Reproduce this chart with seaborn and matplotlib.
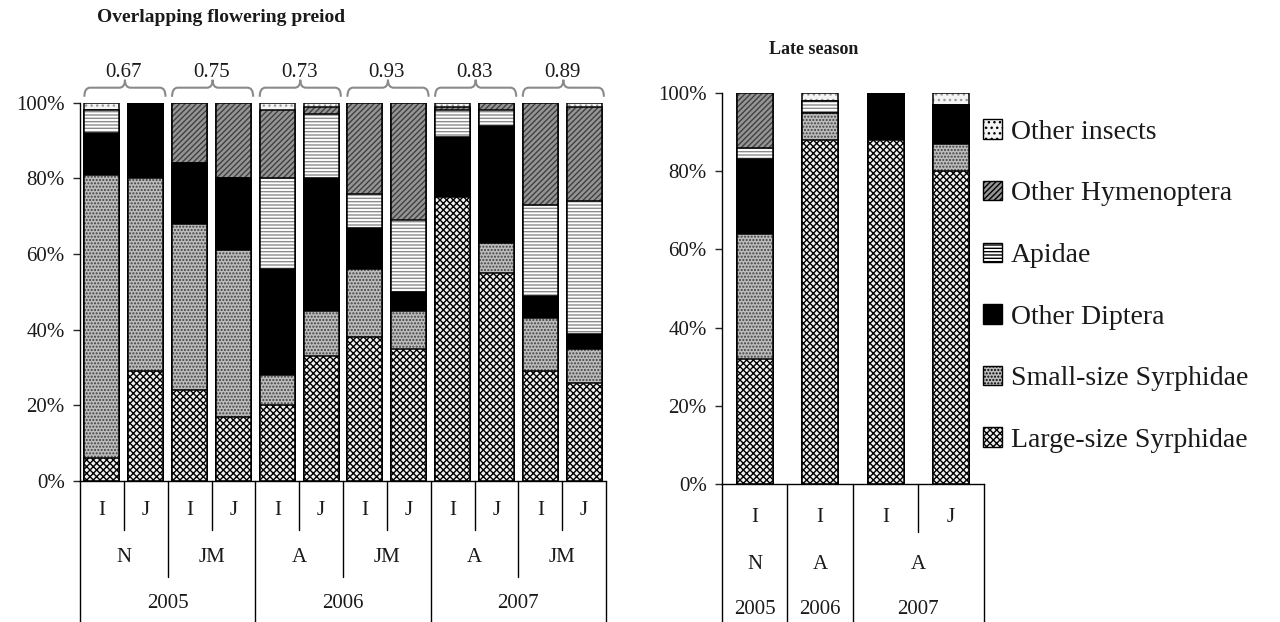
import numpy as np
import matplotlib.pyplot as plt
import matplotlib.patches as mpatches
from matplotlib.path import Path
import seaborn as sns

categories = ['Large-size Syrphidae', 'Small-size Syrphidae', 'Other Diptera',
              'Apidae', 'Other Hymenoptera', 'Other insects']

# overlapping flowering period, % of visits per bar
left_large = [6, 29, 24, 17, 20, 33, 38, 35, 75, 55, 29, 26]
left_small = [75, 51, 44, 44, 8, 12, 18, 10, 0, 8, 14, 9]
left_diptera = [11, 20, 16, 19, 28, 35, 11, 5, 16, 31, 6, 4]
left_apidae = [6, 0, 0, 0, 24, 17, 9, 19, 7, 4, 24, 35]
left_hymen = [0, 0, 16, 20, 18, 2, 24, 31, 1, 2, 27, 25]
left_other = [2, 0, 0, 0, 2, 1, 0, 0, 1, 0, 0, 1]
left_plant = ['I', 'J'] * 6
left_site = ['N', 'JM', 'A', 'JM', 'A', 'JM']
left_site_n = [2, 2, 2, 2, 2, 2]
left_year = ['2005', '2006', '2007']
left_year_n = [4, 4, 4]
overlap = ['0.67', '0.75', '0.73', '0.93', '0.83', '0.89']

# late season
right_large = [32, 88, 88, 80]
right_small = [32, 7, 0, 7]
right_diptera = [19, 0, 12, 10]
right_apidae = [3, 3, 0, 0]
right_hymen = [14, 0, 0, 0]
right_other = [0, 2, 0, 3]
right_plant = ['I', 'I', 'I', 'J']
right_site = ['N', 'A', 'A']
right_site_n = [1, 1, 2]
right_year = ['2005', '2006', '2007']
right_year_n = [1, 1, 2]

# facecolor, hatch, hatch colour
styles = {
    'Large-size Syrphidae': ('#f0f0f0', 'xxxxx', 'black'),
    'Small-size Syrphidae': ('#bcbcbc', '.....', '#404040'),
    'Other Diptera': ('black', None, 'black'),
    'Apidae': ('white', '-----', '#8c8c8c'),
    'Other Hymenoptera': ('#959595', '//////', '#404040'),
    'Other insects': ('#f4f4f4', '...', '#9a9a9a'),
}

sns.set_style('ticks')
plt.rcParams['font.family'] = ['Liberation Serif', 'DejaVu Serif']
plt.rcParams['hatch.linewidth'] = 1.0
TXT = '#1a1a1a'


def stacked(ax, cols, width):
    n = len(cols[0])
    keys = [str(i) for i in range(n)]
    tops = np.cumsum(np.array(cols), axis=0)
    # draw from the top segment down so lower ones overlay
    for k in range(len(categories) - 1, -1, -1):
        face, hatch, hc = styles[categories[k]]
        n0 = len(ax.patches)
        sns.barplot(x=keys, y=tops[k], order=keys, color=face, saturation=1,
                    width=width, errorbar=None, ax=ax)
        for p in ax.patches[n0:]:
            p.set_facecolor(face)
            p.set_edgecolor(hc)
            p.set_hatch(hatch)
            p.set_linewidth(0)
        n0 = len(ax.patches)
        sns.barplot(x=keys, y=tops[k], order=keys, color='black', saturation=1,
                    width=width, errorbar=None, ax=ax)
        for p in ax.patches[n0:]:
            p.set_facecolor('none')
            p.set_edgecolor('black')
            p.set_linewidth(1.1)
    ax.set_xlim(-0.5, n - 0.5)
    ax.set_ylim(0, 100)
    ax.set_yticks(range(0, 101, 20))
    ax.set_yticklabels([f'{v}%' for v in range(0, 101, 20)], fontsize=15, color=TXT)
    ax.tick_params(axis='y', length=5, width=1, pad=6)
    ax.tick_params(axis='x', length=0, labelbottom=False)
    ax.set_xlabel('')
    ax.set_ylabel('')
    sns.despine(ax=ax)
    for s in ['left', 'bottom']:
        ax.spines[s].set_linewidth(1)
        ax.spines[s].set_color('black')


def table(ax, plants, sites, site_n, years, year_n, ys, depths):
    tr = ax.get_xaxis_transform()
    n = len(plants)
    for i, lab in enumerate(plants):
        ax.text(i, ys[0], lab, transform=tr, ha='center', va='center', fontsize=15, color=TXT)
    site_edges = list(np.cumsum([0] + site_n))
    year_edges = list(np.cumsum([0] + year_n))
    for lab, a, b in zip(sites, site_edges[:-1], site_edges[1:]):
        ax.text((a + b - 1) / 2, ys[1], lab, transform=tr, ha='center', va='center',
                fontsize=15, color=TXT)
    for lab, a, b in zip(years, year_edges[:-1], year_edges[1:]):
        ax.text((a + b - 1) / 2, ys[2], lab, transform=tr, ha='center', va='center',
                fontsize=15, color=TXT)
    for j in range(n + 1):
        if j in year_edges:
            d = depths[2]
        elif j in site_edges:
            d = depths[1]
        else:
            d = depths[0]
        ax.plot([j - 0.5, j - 0.5], [0, d], transform=tr, color='black', lw=1, clip_on=False)


def brace(ax, x0, x1, y0, y1, y2):
    xc = (x0 + x1) / 2
    dx = (x1 - x0) * 0.07
    verts = [(x0, y0), (x0, y1), (x0 + dx, y1), (xc - dx, y1), (xc, y1), (xc, y2),
             (xc, y1), (xc + dx, y1), (x1 - dx, y1), (x1, y1), (x1, y0)]
    codes = [Path.MOVETO, Path.CURVE3, Path.CURVE3, Path.LINETO, Path.CURVE3, Path.CURVE3,
             Path.CURVE3, Path.CURVE3, Path.LINETO, Path.CURVE3, Path.CURVE3]
    ax.add_patch(mpatches.PathPatch(Path(verts, codes), fill=False, edgecolor='#8a8a8a',
                                    lw=1.5, transform=ax.get_xaxis_transform(), clip_on=False))


fig = plt.figure(figsize=(12.8, 6.22), dpi=100)
ax1 = fig.add_axes([0.0625, 0.2267, 0.411, 0.608])
ax2 = fig.add_axes([0.564, 0.2219, 0.2047, 0.6286])

stacked(ax1, [left_large, left_small, left_diptera, left_apidae, left_hymen, left_other], 0.8)
stacked(ax2, [right_large, right_small, right_diptera, right_apidae, right_hymen, right_other], 0.55)

table(ax1, left_plant, left_site, left_site_n, left_year, left_year_n,
      (-0.077, -0.201, -0.323), (-0.13, -0.254, -0.4))
table(ax2, right_plant, right_site, right_site_n, right_year, right_year_n,
      (-0.087, -0.207, -0.322), (-0.123, -0.24, -0.4))

for k, lab in enumerate(overlap):
    brace(ax1, 2 * k - 0.4, 2 * k + 1.45, 1.016, 1.040, 1.061)
    ax1.text(2 * k + 0.5, 1.079, lab, transform=ax1.get_xaxis_transform(),
             ha='center', va='center', fontsize=15, color=TXT)

fig.text(97 / 1280, 1 - 18 / 622, 'Overlapping flowering preiod', fontsize=14,
         fontweight='bold', va='center', ha='left', color=TXT)
fig.text(814 / 1280, 1 - 50 / 622, 'Late season', fontsize=13,
         fontweight='bold', va='center', ha='center', color=TXT)

handles = []
for cat in categories[::-1]:
    face, hatch, hc = styles[cat]
    handles.append(mpatches.Patch(facecolor=face, hatch=hatch, edgecolor='black', lw=1, label=cat))
fig.legend(handles=handles, loc='center left', bbox_to_anchor=(983 / 1280, 1 - 286 / 622),
           frameon=False, fontsize=20, labelspacing=1.3, handlelength=0.7, handleheight=0.7,
           handletextpad=0.3, borderpad=0, borderaxespad=0, labelcolor=TXT)

fig.savefig('out.png', dpi=100)
